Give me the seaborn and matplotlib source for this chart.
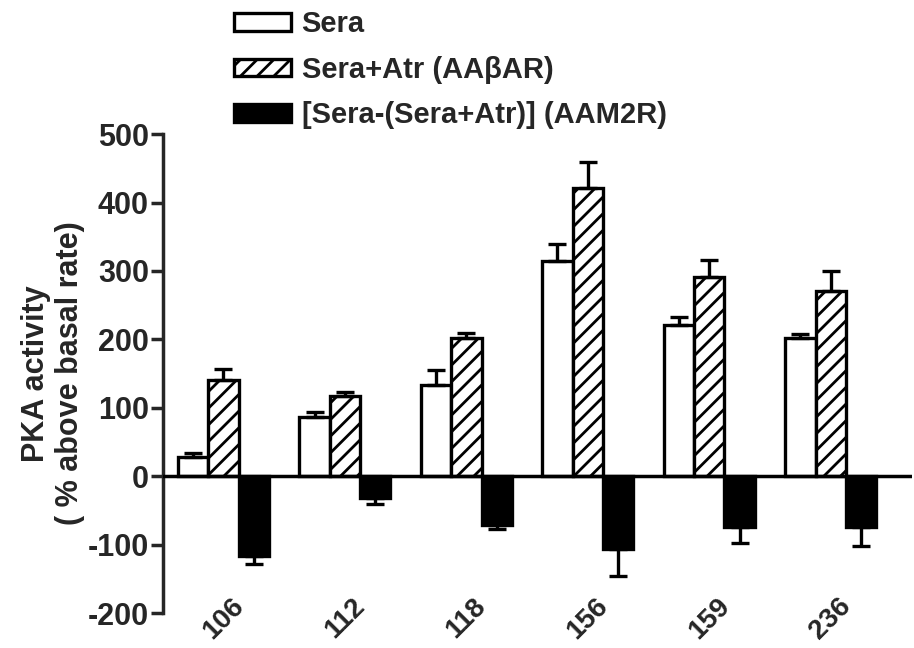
import matplotlib
matplotlib.use('Agg')
import pandas as pd
import seaborn as sns
from matplotlib import pyplot as plt

sera_ids = ['106', '112', '118', '156', '159', '236']
series_names = ['Sera', 'Sera+Atr (AA\u03b2AR)', '[Sera-(Sera+Atr)] (AAM2R)']

sera = [28, 86, 133, 315, 221, 202]
sera_err = [6, 8, 22, 25, 11, 6]
atr = [140, 117, 202, 421, 291, 270]
atr_err = [16, 6, 7, 38, 25, 30]
m2r = [-117, -32, -72, -107, -74, -74]
m2r_err = [12, 9, 5, 39, 24, 28]

rows = []
for vals, errs, name in zip([sera, atr, m2r], [sera_err, atr_err, m2r_err], series_names):
    for sid, v, e in zip(sera_ids, vals, errs):
        rows.append({'serum': sid, 'series': name, 'value': v, 'err': e})
df = pd.DataFrame(rows)

sns.set_style('ticks')
plt.rcParams['font.family'] = ['Liberation Sans', 'DejaVu Sans']
plt.rcParams['axes.unicode_minus'] = False
plt.rcParams['hatch.linewidth'] = 2.0
plt.rcParams['hatch.color'] = 'black'

fig = plt.figure(figsize=(9.14, 6.48), dpi=100)
ax = fig.add_axes([0.178, 0.054, 0.82, 0.739])

sns.barplot(data=df, x='serum', y='value', hue='series', hue_order=series_names,
            palette=['white', 'white', 'black'], width=0.75, gap=0,
            edgecolor='black', linewidth=2.4, errorbar=None, saturation=1,
            legend=False, ax=ax)

# hatch for the atropine series, and one-sided error bars
for i, (cont, name) in enumerate(zip(ax.containers, series_names)):
    sub = df[df['series'] == name]
    for patch, v, e in zip(cont.patches, sub['value'], sub['err']):
        if i == 1:
            patch.set_hatch('//')
        cx = patch.get_x() + patch.get_width() / 2
        yerr = [[0], [e]] if v >= 0 else [[e], [0]]
        ax.errorbar(cx, v, yerr=yerr, color='black', elinewidth=2.4,
                    capsize=6.5, capthick=2.4, zorder=1)

ax.set_ylim(-200, 500)
ax.set_yticks(range(-200, 501, 100))
ax.set_xlim(-0.5, 5.67)
ax.axhline(0, color='black', linewidth=2.5, zorder=3)

sns.despine(ax=ax, bottom=True)
ax.spines['left'].set_linewidth(2.5)
ax.tick_params(axis='y', width=2.5, length=9, labelsize=22, pad=1)
ax.tick_params(axis='x', length=0, labelsize=20, pad=4)
for lab in ax.get_yticklabels():
    lab.set_fontweight('bold')
for lab in ax.get_xticklabels():
    lab.set_fontweight('bold')
    lab.set_rotation(45)
    lab.set_ha('center')
    lab.set_va('center')

ax.set_xlabel('')
ax.set_ylabel('PKA activity\n( % above basal rate)', fontsize=22, fontweight='bold',
              linespacing=1.15, labelpad=2)

fig.legend(handles=ax.containers, labels=series_names, loc='upper left',
           bbox_to_anchor=(0.231, 1.02), frameon=False,
           prop={'size': 21, 'weight': 'bold'}, handlelength=1.95,
           handleheight=0.55, handletextpad=0.35, labelspacing=0.6,
           borderpad=0.3)

fig.savefig('out.png', dpi=100)
